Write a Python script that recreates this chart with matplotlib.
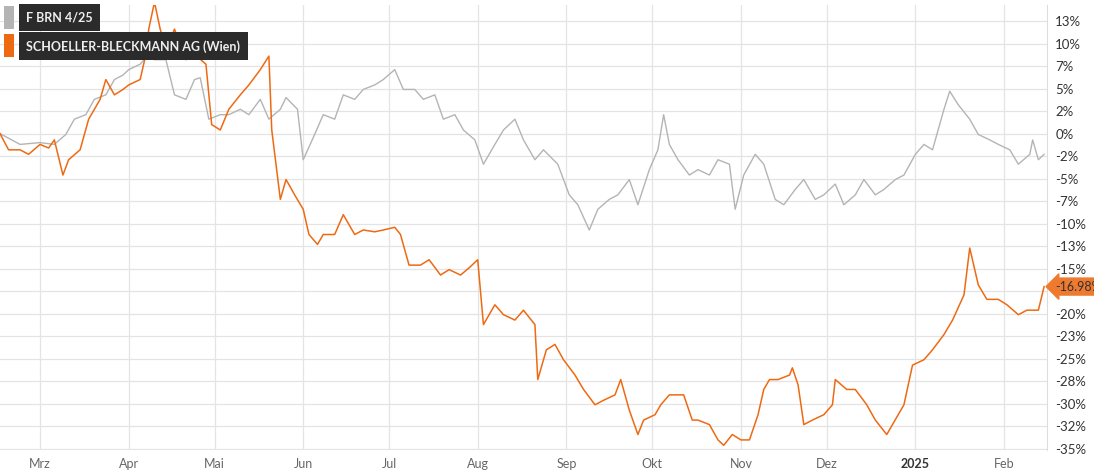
from datetime import date

import matplotlib

matplotlib.use("Agg")
import matplotlib.pyplot as plt

plt.rcParams["font.family"] = "Lato"

# day offsets from 2024-02-16 and percent change
orange_days = [0, 3, 7, 10, 14, 17, 19, 22, 24, 28, 31, 35, 37, 40, 43, 45, 49, 51, 52, 54, 56, 58,
               61, 65, 68, 72, 74, 77, 80, 84, 87, 91, 94, 95, 98, 100, 103, 106, 108, 111, 113, 117,
               120, 124, 127, 131, 134, 138, 140, 143, 147, 150, 154, 157, 161, 164, 167, 169, 173,
               176, 180, 183, 187, 188, 191, 194, 197, 201, 204, 208, 211, 215, 217, 220, 223, 225,
               229, 231, 234, 237, 239, 242, 244, 248, 251, 253, 256, 259, 262, 265, 267, 269, 272,
               276, 277, 279, 281, 284, 288, 291, 292, 296, 299, 303, 306, 310, 312, 316, 319, 323,
               326, 330, 333, 337, 339, 342, 345, 349, 352, 356, 359, 363, 365]
orange_pct = [0, -1.8, -1.8, -2.3, -1.2, -1.6, -0.7, -4.6, -2.9, -1.8, 1.6, 3.8, 6.0, 4.3, 4.9, 5.4,
              6.0, 8.8, 11.6, 14.6, 11.6, 9.3, 11.6, 8.2, 8.8, 7.7, 1.0, 0.4, 2.7, 4.3, 5.4, 7.1, 8.6,
              0.4, -7.3, -5.1, -6.8, -8.4, -11.2, -12.3, -11.2, -11.2, -9.0, -11.2, -10.7, -10.9,
              -10.7, -10.4, -11.2, -14.6, -14.6, -14.0, -15.7, -15.1, -15.7, -14.9, -14.0, -21.2,
              -19.0, -20.1, -20.7, -19.6, -21.2, -27.3, -24.0, -23.4, -25.1, -26.8, -28.4, -30.1,
              -29.6, -29.0, -27.3, -30.7, -33.4, -31.8, -31.2, -30.1, -29.0, -29.0, -29.0, -31.8,
              -31.8, -32.3, -34.0, -34.6, -33.4, -34.0, -34.0, -31.2, -28.4, -27.3, -27.3, -26.8,
              -26.0, -27.9, -32.3, -31.8, -31.2, -30.1, -27.3, -28.4, -28.4, -30.1, -31.8, -33.4,
              -32.3, -30.1, -25.7, -25.1, -24.0, -22.3, -20.7, -17.9, -12.7, -16.8, -18.4, -18.4,
              -19.0, -20.1, -19.6, -19.6, -16.98]

gray_days = [0, 7, 14, 19, 23, 26, 30, 33, 37, 40, 43, 45, 49, 52, 54, 58, 61, 65, 68, 70, 73, 77,
             80, 84, 87, 91, 94, 98, 100, 104, 106, 110, 113, 117, 120, 124, 127, 131, 134, 138, 141,
             145, 148, 152, 155, 159, 162, 166, 169, 173, 176, 180, 183, 187, 190, 195, 199, 202,
             206, 209, 213, 216, 220, 223, 227, 230, 232, 234, 237, 241, 244, 248, 251, 255, 257,
             260, 264, 267, 271, 274, 278, 281, 285, 288, 292, 295, 299, 302, 306, 309, 313, 316,
             320, 323, 326, 330, 332, 335, 339, 342, 346, 349, 353, 356, 360, 361, 363, 365]
gray_pct = [0, -1.2, -1.0, -1.2, -0.1, 1.6, 2.1, 3.8, 4.3, 6.0, 6.5, 7.1, 7.7, 8.8, 8.2, 8.2, 4.3,
            3.8, 6.0, 6.2, 1.6, 2.1, 2.1, 2.7, 2.1, 3.8, 1.6, 2.7, 4.0, 2.7, -2.9, -0.1, 2.1, 1.6,
            4.3, 3.8, 4.9, 5.4, 6.0, 7.1, 4.9, 4.9, 3.8, 4.3, 1.6, 2.1, 0.4, -0.7, -3.4, -1.2, 0.4,
            1.6, -0.7, -2.9, -1.8, -3.4, -6.8, -7.9, -10.7, -8.4, -7.3, -6.8, -5.1, -7.9, -4.0,
            -1.8, 2.1, -1.2, -2.9, -4.6, -4.0, -4.6, -2.9, -3.4, -8.4, -4.6, -2.3, -3.4, -7.3,
            -7.9, -6.2, -5.1, -7.3, -6.8, -5.6, -7.9, -6.8, -5.1, -6.8, -6.2, -5.1, -4.6, -2.3,
            -1.2, -1.8, 2.7, 4.7, 3.2, 1.6, -0.1, -0.7, -1.2, -1.8, -3.4, -2.3, -0.7, -2.9, -2.3]

month_labels = ["Mrz", "Apr", "Mai", "Jun", "Jul", "Aug", "Sep", "Okt", "Nov", "Dez", "2025", "Feb"]
month_dates = [date(2024, m, 1) for m in range(3, 13)] + [date(2025, 1, 1), date(2025, 2, 1)]
ytick_vals = [12.5, 10, 7.5, 5, 2.5, 0, -2.5, -5, -7.5, -10, -12.5, -15, -17.5, -20, -22.5, -25,
              -27.5, -30, -32.5, -35]
ytick_labels = ["13%", "10%", "7%", "5%", "2%", "0%", "-2%", "-5%", "-7%", "-10%", "-13%", "-15%",
                "", "-20%", "-23%", "-25%", "-28%", "-30%", "-32%", "-35%"]

start = date(2024, 2, 16)
month_pos = [(d - start).days for d in month_dates]

ORANGE = "#ee6a12"
GRAY = "#b4b4b4"
TEXT = "#333333"

fig = plt.figure(figsize=(10.94, 4.76), dpi=100)
ax = fig.add_axes([0.0, 0.055, 0.957, 0.935])
ax.plot(gray_days, gray_pct, color=GRAY, lw=1.0, zorder=2)
ax.plot(orange_days, orange_pct, color=ORANGE, lw=1.1, zorder=3)

ax.set_xlim(0, 366)
ax.set_ylim(-35.1, 14.3)
ax.set_xticks(month_pos)
ax.set_xticklabels(month_labels)
for lbl in ax.get_xticklabels():
    lbl.set_color("#666666")
    lbl.set_fontsize(9)
    if lbl.get_text() == "2025":
        lbl.set_fontweight("bold")
        lbl.set_color(TEXT)
ax.yaxis.tick_right()
ax.set_yticks(ytick_vals)
ax.set_yticklabels(ytick_labels, fontsize=9.5, color=TEXT)
ax.tick_params(length=0, pad=6)
ax.grid(True, color="#e4e4e4", lw=0.9)
for side in ["top", "left", "bottom"]:
    ax.spines[side].set_visible(False)
ax.spines["right"].set_color("#dddddd")

# last value tag
ax.annotate("-16.98%", xy=(366, orange_pct[-1]), xycoords="data", xytext=(6, 0),
            textcoords="offset points", va="center", ha="left", fontsize=9, color=TEXT,
            bbox=dict(boxstyle="larrow,pad=0.2", fc="#ee7a30", ec="#ee7a30"),
            annotation_clip=False)

# legend boxes
fig.text(0.024, 0.963, "F BRN 4/25", fontsize=9, fontweight="bold", color="#eeeeee", va="center",
         bbox=dict(boxstyle="square,pad=0.6", fc="#2b2b2b", ec="none"))
fig.patches.append(plt.Rectangle((0.004, 0.94), 0.009, 0.048, transform=fig.transFigure,
                                 fc=GRAY, ec="none"))
fig.text(0.024, 0.903, "SCHOELLER-BLECKMANN AG (Wien)", fontsize=9, fontweight="bold",
         color="#eeeeee", va="center",
         bbox=dict(boxstyle="square,pad=0.6", fc="#2b2b2b", ec="none"))
fig.patches.append(plt.Rectangle((0.004, 0.88), 0.009, 0.048, transform=fig.transFigure,
                                 fc=ORANGE, ec="none"))

fig.savefig("out.png", dpi=100)
